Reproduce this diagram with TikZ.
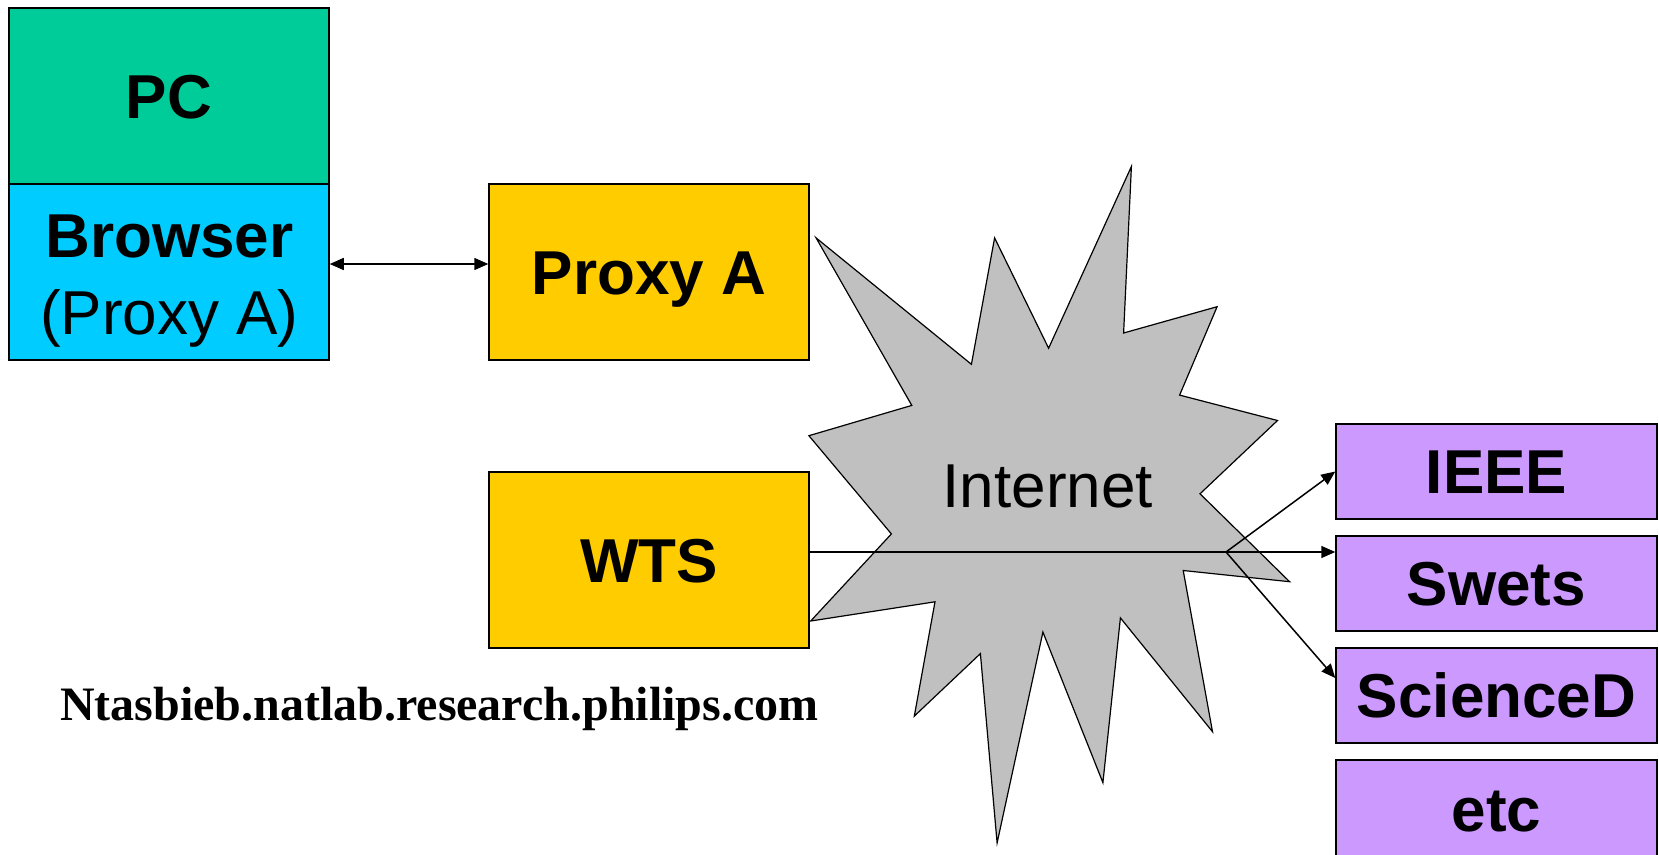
\documentclass[tikz,border=0pt]{standalone}
\usepackage{fontspec}
\setmainfont{Liberation Sans}
\newfontfamily\serifbold{Liberation Serif}
\usetikzlibrary{arrows.meta}
\definecolor{pcgreen}{RGB}{0,204,153}
\definecolor{browsercyan}{RGB}{0,204,255}
\definecolor{proxyyellow}{RGB}{255,204,0}
\definecolor{sitepurple}{RGB}{204,153,255}
\definecolor{cloudgray}{RGB}{192,192,192}
\tikzset{
  box/.style={draw=black, line width=1.5pt, inner sep=0pt,
    font=\fontsize{62}{74}\selectfont\bfseries, text height=44pt, text depth=0pt},
  bigbox/.style={box, minimum width=320pt, minimum height=176pt},
  sitebox/.style={box, fill=sitepurple, minimum width=321pt, minimum height=95pt},
  conn/.style={line width=1.5pt, draw=black},
  tip/.style={-{Triangle[length=14pt,width=12pt]}},
}
\begin{document}
\begin{tikzpicture}[x=1pt,y=-1pt]
\useasboundingbox (0,0) rectangle (1659,854);
\clip (0,0) rectangle (1659,854);
% star (Internet)
\draw[fill=cloudgray, line width=1.2pt, line join=miter]
 (816.1,237.9) -- (971.4,364.3) -- (994.6,237.9) -- (1048.6,348.2) -- (1131.4,166.5)
 -- (1123.6,333) -- (1217.1,306.7) -- (1179.6,395.1) -- (1277.5,420.5) -- (1200,493.8)
 -- (1289.6,581.7) -- (1183.2,570.5) -- (1212.5,731.7) -- (1120.4,617.9) -- (1102.9,782.6)
 -- (1042.9,632.1) -- (997.1,842.9) -- (980.4,653.6) -- (914.3,716.1) -- (935,601.8)
 -- (810.7,621) -- (891.4,533.9) -- (808.9,435.7) -- (911.8,405.4) -- cycle;
\node[anchor=base, font=\fontsize{62}{74}\selectfont] (internet) at (1047.7,507) {Internet};
% left boxes
\node[bigbox, fill=pcgreen] (pc) at (169,96) {PC};
\node[bigbox, fill=browsercyan] (browser) at (169,272) {};
\node[anchor=base, font=\fontsize{62}{74}\selectfont\bfseries] (browsertxt) at (169.5,257) {Browser};
\node[anchor=base, font=\fontsize{62}{74}\selectfont] (browserproxy) at (169.5,334) {(Proxy A)};
\node[bigbox, fill=proxyyellow] (proxyA) at (649,272) {Proxy A};
\node[bigbox, fill=proxyyellow] (wts) at (649,560) {WTS};
% right boxes
\node[sitebox] (ieee) at (1496.5,471.5) {IEEE};
\node[sitebox] (swets) at (1496.5,583.5) {Swets};
\node[sitebox] (sciencedirect) at (1496.5,695.5) {ScienceD};
\node[sitebox, minimum height=120pt, text depth=20.6pt] (etc) at (1496.5,820) {etc};
% host name
\node[anchor=base west, inner sep=0pt, font=\serifbold\fontsize{48}{56}\selectfont\bfseries] (host) at (60,720) {Ntasbieb.natlab.research.philips.com};
% connectors
\draw[conn, {Triangle[length=14pt,width=12pt]}-{Triangle[length=14pt,width=12pt]}]
  ([yshift=8pt]browser.east) -- ([yshift=8pt]proxyA.west);
\coordinate (junction) at (1226,552);
\draw[conn] ([yshift=8pt]wts.east) -- (junction);
\draw[conn, tip] (junction) -- (ieee.west);
\draw[conn, tip] (junction) -- (junction -| swets.west);
\draw[conn, tip] (junction) -- ([yshift=17.5pt]sciencedirect.west);
\end{tikzpicture}
\end{document}
